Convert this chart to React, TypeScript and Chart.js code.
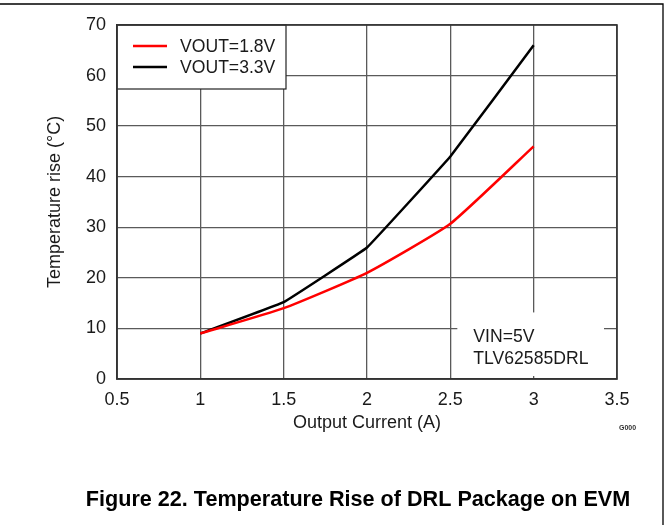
import React, { useEffect, useRef } from "react";
import { Chart, registerables } from "chart.js";

Chart.register(...registerables);

const currents = [1, 1.5, 2, 2.5, 3];
const vout18 = [9, 14, 21, 30.7, 46];
const vout33 = [9, 15.2, 26, 44, 66];
const seriesLabels = ["VOUT=1.8V", "VOUT=3.3V"];
const seriesColors = ["#ff0000", "#000000"];
const noteLines = ["VIN=5V", "TLV62585DRL"];
const caption = "Figure 22. Temperature Rise of DRL Package on EVM";
const xTitle = "Output Current (A)";
const yTitle = "Temperature rise (°C)";
const code = "G000";

const FONT = "'Liberation Sans', Arial, sans-serif";

const decorPlugin = {
  id: "decor",
  afterDatasetsDraw(chart: any) {
    const { ctx, chartArea, scales } = chart;
    const xs = scales.x;
    const ys = scales.y;
    ctx.save();
    // legend box
    const lx = chartArea.left;
    const ly = chartArea.top;
    const lw = 169;
    const lh = 64;
    ctx.fillStyle = "#fff";
    ctx.fillRect(lx, ly, lw, lh);
    ctx.strokeStyle = "#222";
    ctx.lineWidth = 1.2;
    ctx.strokeRect(lx, ly, lw, lh);
    ctx.font = `17.6px ${FONT}`;
    ctx.textBaseline = "middle";
    ctx.textAlign = "left";
    chart.data.datasets.forEach((ds: any, i: number) => {
      const y = ly + 21 + i * 21;
      ctx.strokeStyle = ds.borderColor;
      ctx.lineWidth = 2.5;
      ctx.beginPath();
      ctx.moveTo(lx + 16, y);
      ctx.lineTo(lx + 50, y);
      ctx.stroke();
      ctx.fillStyle = "#1a1a1a";
      ctx.fillText(ds.label, lx + 63, y + 1);
    });
    // note box
    const nx = xs.getPixelForValue(2.5) + 7;
    const nx2 = xs.getPixelForValue(3.5) - 13;
    const ny = ys.getPixelForValue(10) - 16;
    const ny2 = chartArea.bottom - 3;
    ctx.fillStyle = "#fff";
    ctx.fillRect(nx, ny, nx2 - nx, ny2 - ny);
    ctx.fillStyle = "#1a1a1a";
    noteLines.forEach((t, i) => {
      ctx.fillText(t, nx + 16, ny + 25 + i * 22);
    });
    // plot frame
    ctx.strokeStyle = "#333";
    ctx.lineWidth = 1.6;
    ctx.strokeRect(chartArea.left, chartArea.top, chartArea.right - chartArea.left, chartArea.bottom - chartArea.top);
    ctx.restore();
  },
  afterDraw(chart: any) {
    const { ctx } = chart;
    ctx.save();
    // outer frame
    ctx.strokeStyle = "#000";
    ctx.lineWidth = 1.3;
    ctx.beginPath();
    ctx.moveTo(0, 4);
    ctx.lineTo(663, 4);
    ctx.lineTo(663, 525);
    ctx.stroke();
    // caption
    ctx.fillStyle = "#000";
    ctx.font = `bold 21.6px ${FONT}`;
    ctx.textAlign = "center";
    ctx.textBaseline = "middle";
    ctx.fillText(caption, 358, 500);
    // code
    ctx.font = `bold 7px ${FONT}`;
    ctx.fillStyle = "#333";
    ctx.textAlign = "left";
    ctx.fillText(code, 619, 428);
    ctx.restore();
  },
};

export default function App() {
  const ref = useRef<HTMLCanvasElement | null>(null);
  useEffect(() => {
    if (!ref.current) return;
    const chart = new Chart(ref.current, {
      type: "line",
      data: {
        datasets: [
          {
            label: seriesLabels[0],
            data: currents.map((x, i) => ({ x, y: vout18[i] })),
            borderColor: seriesColors[0],
            backgroundColor: seriesColors[0],
            borderWidth: 2.5,
            pointRadius: 0,
            tension: 0.15,
          },
          {
            label: seriesLabels[1],
            data: currents.map((x, i) => ({ x, y: vout33[i] })),
            borderColor: seriesColors[1],
            backgroundColor: seriesColors[1],
            borderWidth: 2.5,
            pointRadius: 0,
            tension: 0.05,
          },
        ],
      },
      options: {
        animation: false,
        responsive: true,
        maintainAspectRatio: false,
        layout: { padding: { left: 0, top: 25, right: 54, bottom: 0 } },
        plugins: { legend: { display: false }, tooltip: { enabled: false } },
        scales: {
          x: {
            type: "linear",
            min: 0.5,
            max: 3.5,
            ticks: {
              stepSize: 0.5,
              padding: 10,
              color: "#1a1a1a",
              font: { family: FONT, size: 18 },
              callback: (v: any) => String(v),
            },
            grid: { color: "#5a5a5a", lineWidth: 1.3, drawTicks: false },
            border: { color: "#333", width: 1.6 },
            title: {
              display: true,
              text: xTitle,
              color: "#1a1a1a",
              font: { family: FONT, size: 18 },
              padding: { top: 0, bottom: 91 },
            },
            afterFit: (s: any) => {
              s.height = 146;
            },
          },
          y: {
            type: "linear",
            min: 0,
            max: 70,
            ticks: {
              stepSize: 10,
              padding: 11,
              color: "#1a1a1a",
              font: { family: FONT, size: 18 },
            },
            grid: { color: "#5a5a5a", lineWidth: 1.3, drawTicks: false },
            border: { color: "#333", width: 1.6 },
            title: {
              display: true,
              text: yTitle,
              color: "#1a1a1a",
              font: { family: FONT, size: 18 },
              padding: { top: 44, bottom: 0 },
            },
            afterFit: (s: any) => {
              s.width = 117;
            },
          },
        },
      },
      plugins: [decorPlugin],
    });
    return () => chart.destroy();
  }, []);
  return (
    <div style={{ position: "absolute", left: 0, top: 0, width: 671, height: 525, background: "#fff" }}>
      <canvas ref={ref} />
    </div>
  );
}
